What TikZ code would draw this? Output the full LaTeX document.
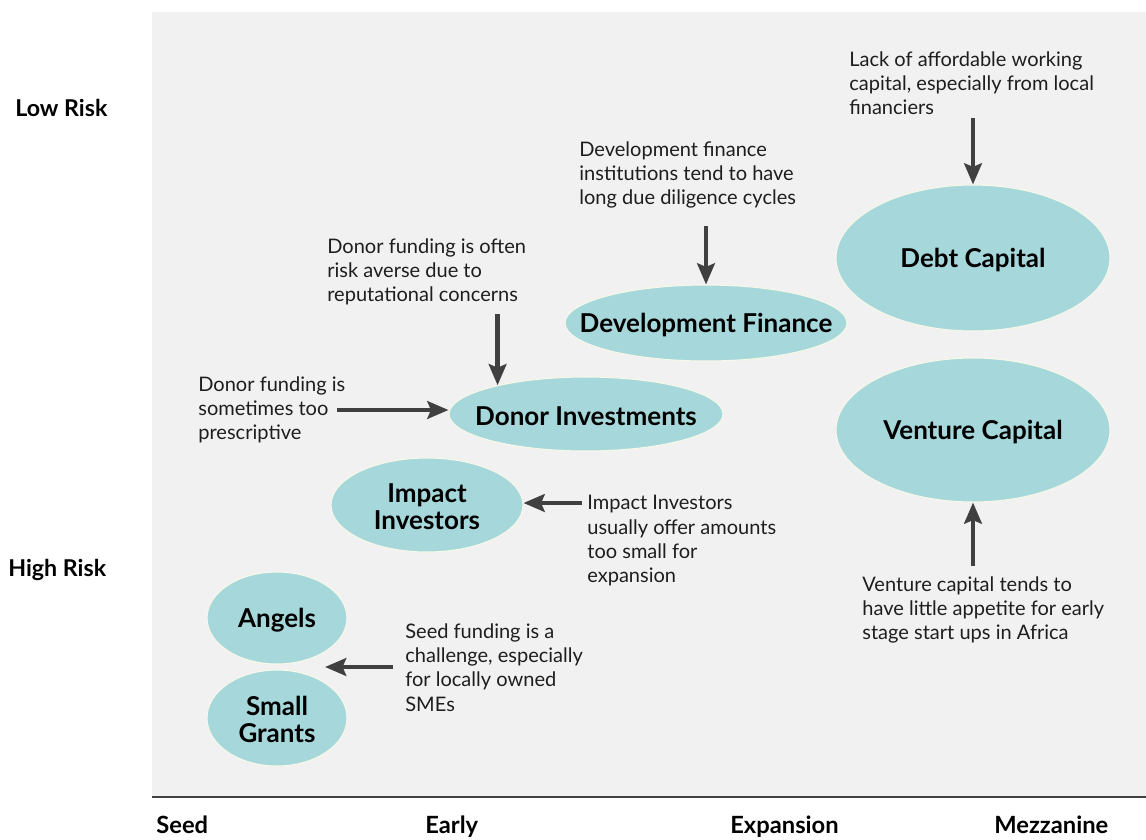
\documentclass[tikz,border=0pt]{standalone}
\usepackage{fontspec}
\setmainfont{Lato}
\usetikzlibrary{arrows.meta,shapes.geometric}

\definecolor{panelgrey}{HTML}{F1F1F1}
\definecolor{fundteal}{HTML}{A6D8DB}
\definecolor{rimcream}{HTML}{F6F8E8}
\definecolor{arrowgrey}{HTML}{404040}
\definecolor{inkgrey}{HTML}{1E1E1E}

\tikzset{
  fundtxt/.style={font=\fontsize{14.8}{15.5}\selectfont\bfseries, text=black, align=center, inner sep=0pt},
  fund/.style={ellipse, fill=fundteal, draw=rimcream, line width=0.6pt, inner sep=0pt,
               label={[fundtxt,yshift=-1pt]center:#1}},
  note/.style={anchor=north west, inner sep=0pt, align=left, text=inkgrey,
               font=\fontsize{11.4}{13.9}\selectfont},
  arr/.style={-{Stealth[length=12pt,width=10pt,inset=2pt]}, line width=2.5pt, draw=arrowgrey},
  risklbl/.style={anchor=base west, inner sep=0pt, font=\fontsize{13.2}{15}\selectfont\bfseries},
  stagelbl/.style={anchor=base west, inner sep=0pt, font=\fontsize{13.5}{15}\selectfont\bfseries}
}

\begin{document}
\begin{tikzpicture}[x=0.02cm,y=-0.02cm]
        \useasboundingbox (0,0) rectangle (1146,839);
        \fill[panelgrey] (152,12) rectangle (1146,796);
        \draw[arrowgrey,line width=1.2pt] (152,797) -- (1146,797);

        % risk and stage labels
        \node[risklbl] (lowrisk) at (15,116) {Low Risk};
        \node[risklbl] (highrisk) at (8,576) {High Risk};
        \node[stagelbl] (seed) at (156,833) {Seed};
        \node[stagelbl] (early) at (425,833) {Early};
        \node[stagelbl] (expansion) at (730,833) {Expansion};
        \node[stagelbl] (mezzanine) at (994,833) {Mezzanine};

        % sources of funding
        \node[fund={Debt Capital}, minimum width=5.48cm, minimum height=2.92cm] (debt) at (973,258) {};
        \node[fund={Venture Capital}, minimum width=5.48cm, minimum height=2.88cm] (venture) at (973,430) {};
        \node[fund={Development Finance}, minimum width=5.64cm, minimum height=1.52cm] (devfin) at (706,323) {};
        \node[fund={Donor Investments}, minimum width=5.48cm, minimum height=1.48cm] (donor) at (586,414) {};
        \node[fund={Impact\\Investors}, minimum width=3.84cm, minimum height=1.88cm] (impact) at (427,505) {};
        \node[fund={Angels}, minimum width=2.8cm, minimum height=1.84cm] (angels) at (277,618) {};
        \node[fund={Small\\Grants}, minimum width=2.8cm, minimum height=1.92cm] (grants) at (277,718) {};

        % constraints
        \node[note] (lacknote) at (849,51) {Lack of affordable working\\capital, especially from local\\financiers};
        \node[note] (dfinote) at (579,141) {Development finance\\institutions tend to have\\long due diligence cycles};
        \node[note] (riskynote) at (327,238) {Donor funding is often\\risk averse due to\\reputational concerns};
        \node[note] (prescnote) at (198,376) {Donor funding is\\sometimes too\\prescriptive};
        \node[note] (impactnote) at (587,495) {Impact Investors\\usually offer amounts\\too small for\\expansion};
        \node[note] (vcnote) at (862,576) {Venture capital tends to\\have little appetite for early\\stage start ups in Africa};
        \node[note] (seednote) at (405,623) {Seed funding is a\\challenge, especially\\for locally owned\\SMEs};

        \coordinate (lackfoot) at (973,118);
        \coordinate (dfifoot) at (706,226);
        \path (donor.162) ++(0,-71) coordinate (riskyfoot);
        \coordinate (prescfoot) at (337,410);
        \coordinate (impactfoot) at (582,503);
        \coordinate (vcfoot) at (973,566);
        \coordinate (seedfoot) at (393,667);
        \coordinate (seedtip) at (325,667);

        \draw[arr] (lackfoot) -- (debt);
        \draw[arr] (dfifoot) -- (devfin);
        \draw[arr] (riskyfoot) -- (donor.162);
        \draw[arr] (prescfoot) -- (prescfoot -| donor.west);
        \draw[arr] (impactfoot) -- (impactfoot -| impact.east);
        \draw[arr] (vcfoot) -- (venture);
        \draw[arr] (seedfoot) -- (seedtip);
\end{tikzpicture}
\end{document}
